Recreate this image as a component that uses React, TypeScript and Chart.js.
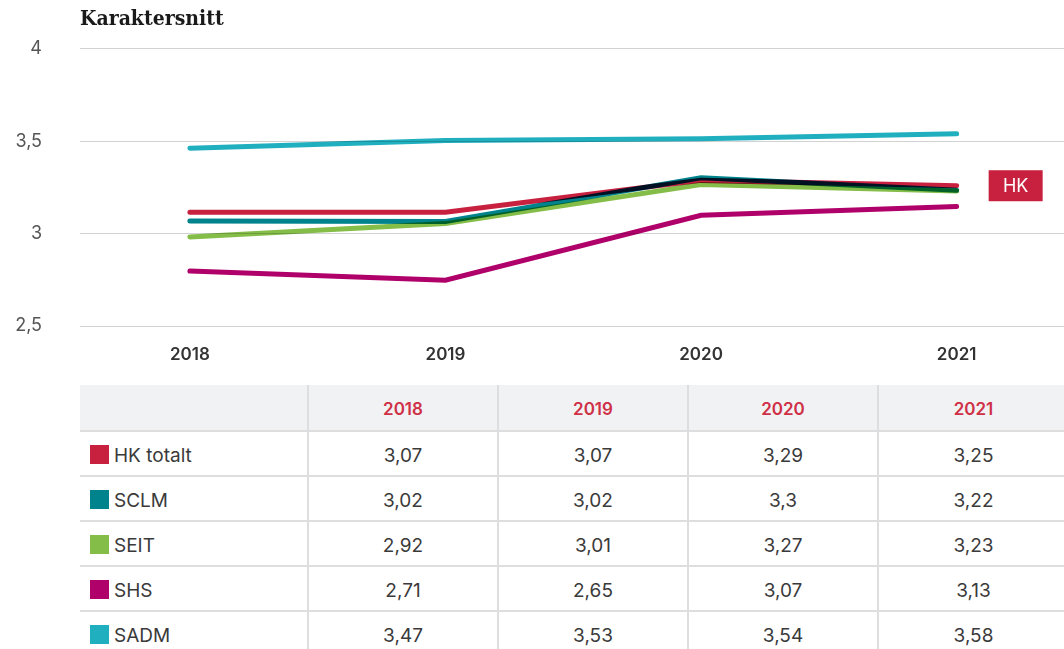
import React, { useEffect, useRef } from "react";
import { Chart, registerables } from "chart.js";
Chart.register(...registerables);

const years = ["2018", "2019", "2020", "2021"];
const seriesNames = ["HK totalt", "SCLM", "SEIT", "SHS", "SADM"];
const seriesColors = ["#C8203F", "#00838C", "#84BD48", "#B0006A", "#20AFBF"];

// line values
const hkLine = [3.115, 3.115, 3.288, 3.259];
const sclmLine = [3.068, 3.066, 3.302, 3.234];
const seitLine = [2.982, 3.054, 3.266, 3.23];
const shsLine = [2.797, 2.748, 3.099, 3.147];
const sadmLine = [3.462, 3.504, 3.513, 3.54];

const yTicks = [2.5, 3, 3.5, 4];

// table values as printed
const hkTable = ["3,07", "3,07", "3,29", "3,25"];
const sclmTable = ["3,02", "3,02", "3,3", "3,22"];
const seitTable = ["2,92", "3,01", "3,27", "3,23"];
const shsTable = ["2,71", "2,65", "3,07", "3,13"];
const sadmTable = ["3,47", "3,53", "3,54", "3,58"];

const title = "Karaktersnitt";
const calloutLabel = "HK";

const lineData = [hkLine, sclmLine, seitLine, shsLine, sadmLine];
const tableData = [hkTable, sclmTable, seitTable, shsTable, sadmTable];

const FONT = "Inter, 'Noto Sans', sans-serif";

const multiplyPlugin = {
  id: "multiply",
  beforeDatasetsDraw(chart: any) {
    chart.ctx.save();
    chart.ctx.globalCompositeOperation = "multiply";
  },
  afterDatasetsDraw(chart: any) {
    chart.ctx.restore();
  },
};

const calloutPlugin = {
  id: "callout",
  afterDraw(chart: any) {
    const meta = chart.getDatasetMeta(0);
    const last = meta.data[meta.data.length - 1];
    if (!last) return;
    const ctx = chart.ctx;
    const w = 54;
    const h = 31;
    const x = last.x + 32;
    const y = last.y - h / 2;
    ctx.save();
    ctx.fillStyle = seriesColors[0];
    ctx.fillRect(x, y, w, h);
    ctx.fillStyle = "#ffffff";
    ctx.font = `18px ${FONT}`;
    ctx.textAlign = "center";
    ctx.textBaseline = "middle";
    ctx.fillText(calloutLabel, x + w / 2, y + h / 2 + 1);
    ctx.restore();
  },
};

function LineChart() {
  const ref = useRef<HTMLCanvasElement | null>(null);
  useEffect(() => {
    if (!ref.current) return;
    const chart = new Chart(ref.current, {
      type: "line",
      data: {
        datasets: lineData.map((vals, i) => ({
          label: seriesNames[i],
          data: vals.map((v, j) => ({ x: j, y: v })),
          borderColor: seriesColors[i],
          backgroundColor: seriesColors[i],
          borderWidth: 5,
          borderCapStyle: "round" as const,
          pointRadius: 0,
          tension: 0,
          fill: false,
        })),
      },
      options: {
        animation: false,
        responsive: false,
        maintainAspectRatio: false,
        layout: { padding: { top: 48, left: 0, right: 0, bottom: 0 } },
        plugins: {
          legend: { display: false },
          tooltip: { enabled: false },
          title: { display: false },
        },
        scales: {
          x: {
            type: "linear",
            min: -0.43,
            max: 3.42,
            grid: { display: false, drawTicks: false },
            border: { display: false },
            afterBuildTicks: (axis: any) => {
              axis.ticks = years.map((_, i) => ({ value: i }));
            },
            afterFit: (axis: any) => {
              axis.height = 49;
            },
            ticks: {
              padding: 19,
              color: "#333333",
              font: { family: FONT, size: 17, weight: "600" },
              maxRotation: 0,
              callback: (v: any) => years[Number(v)] ?? "",
            },
          },
          y: {
            min: 2.5,
            max: 4,
            grid: { color: "#d2d2d2", lineWidth: 1, drawTicks: false },
            border: { display: false },
            afterBuildTicks: (axis: any) => {
              axis.ticks = yTicks.map((v) => ({ value: v }));
            },
            afterFit: (axis: any) => {
              axis.width = 80;
            },
            ticks: {
              padding: 38,
              color: "#555555",
              font: { family: FONT, size: 18, weight: "400" },
              callback: (v: any) => String(v).replace(".", ","),
            },
          },
        },
      },
      plugins: [multiplyPlugin, calloutPlugin],
    } as any);
    return () => chart.destroy();
  }, []);
  return <canvas ref={ref} width={1064} height={375} style={{ display: "block" }} />;
}

export default function App() {
  const border = "2px solid #dedede";
  const colW = [228, 190, 190, 190, 190];
  return (
    <div
      style={{
        position: "fixed",
        left: 0,
        top: 0,
        width: 1064,
        height: 649,
        overflow: "hidden",
        background: "#ffffff",
        fontFamily: FONT,
      }}
    >
      <div style={{ position: "absolute", left: 0, top: 0 }}>
        <LineChart />
      </div>
      <div
        style={{
          position: "absolute",
          left: 80,
          top: 3,
          fontFamily: "'DejaVu Serif Condensed', 'DejaVu Serif', serif",
          fontStretch: "condensed",
          fontWeight: 700,
          fontSize: 21,
          color: "#1a1a1a",
          lineHeight: "30px",
        }}
      >
        {title}
      </div>
      <table
        style={{
          position: "absolute",
          left: 80,
          top: 385,
          borderCollapse: "collapse",
          tableLayout: "fixed",
          width: colW.reduce((a, b) => a + b, 0),
          fontSize: 19,
          color: "#3a3a3a",
        }}
      >
        <colgroup>
          {colW.map((w, i) => (
            <col key={i} style={{ width: w }} />
          ))}
        </colgroup>
        <thead>
          <tr style={{ height: 46, background: "#f1f2f4" }}>
            <th style={{ borderBottom: border }}></th>
            {years.map((y) => (
              <th
                key={y}
                style={{
                  borderLeft: border,
                  borderBottom: border,
                  color: "#CF3046",
                  fontWeight: 600,
                  fontSize: 17,
                  textAlign: "center",
                  padding: "3px 0 0 0",
                }}
              >
                {y}
              </th>
            ))}
          </tr>
        </thead>
        <tbody>
          {seriesNames.map((name, i) => (
            <tr key={name} style={{ height: 45 }}>
              <td
                style={{
                  borderBottom: border,
                  padding: "4px 0 0 10px",
                  whiteSpace: "nowrap",
                }}
              >
                <span
                  style={{
                    display: "inline-block",
                    width: 19,
                    height: 19,
                    background: seriesColors[i],
                    marginRight: 5,
                    verticalAlign: "-2px",
                  }}
                />
                {name}
              </td>
              {tableData[i].map((v, j) => (
                <td
                  key={j}
                  style={{
                    borderLeft: border,
                    borderBottom: border,
                    textAlign: "center",
                    padding: "4px 0 0 0",
                  }}
                >
                  {v}
                </td>
              ))}
            </tr>
          ))}
        </tbody>
      </table>
    </div>
  );
}
